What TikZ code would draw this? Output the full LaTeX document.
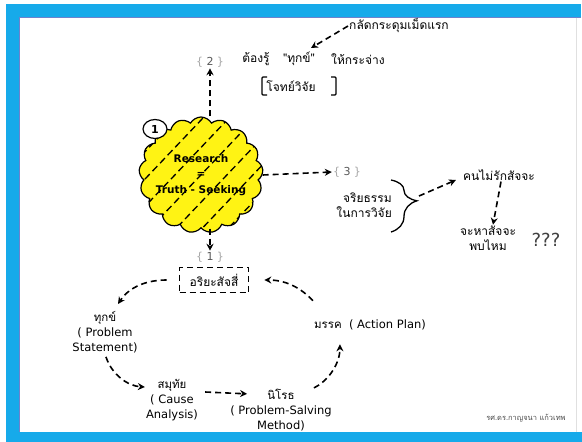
\documentclass[tikz,border=0pt]{standalone}
\usepackage{fontspec}
\setmainfont{DejaVu Sans}
\newfontfamily\thai[Script=Thai]{Loma}
\usetikzlibrary{shapes.symbols,shapes.geometric,decorations.pathreplacing,arrows.meta}
\definecolor{frameblue}{RGB}{22,170,234}
\definecolor{frameedge}{RGB}{110,130,205}
\definecolor{cloudyellow}{RGB}{255,243,20}

\begin{document}
\begin{tikzpicture}[x=1pt,y=-1pt,
  flow/.style={line width=1.6pt, dash pattern=on 6pt off 4pt,
    -{Stealth[length=7pt,width=7pt]}},
  txt/.style={font=\fontsize{11.5}{15}\selectfont, align=center, inner sep=1pt},
  thtxt/.style={font=\fontsize{12}{14.5}\thai, align=center, inner sep=1pt},
  tag/.style={font=\fontsize{11}{13}\selectfont, text=black!65, inner sep=1pt},
  cloudshape/.style={cloud, cloud puffs=17, cloud puff arc=120, cloud ignores aspect,
    minimum width=124pt, minimum height=116pt, draw, line width=1.2pt, fill=cloudyellow,
    path picture={
      \foreach \k in {-8,...,8}
        \draw[line width=1.3pt, dash pattern=on 7pt off 4pt]
          ([xshift=\k*26pt]path picture bounding box.center) ++(-95pt,-100pt) -- ++(190pt,200pt);
    }},
  badge/.style={ellipse, draw, fill=white, line width=1.2pt, minimum width=24pt,
    minimum height=19pt, inner sep=0pt, font=\bfseries\fontsize{11}{13}\selectfont},
  noblebox/.style={draw, line width=1.6pt, dash pattern=on 6pt off 4pt,
    minimum width=69pt, minimum height=25pt, inner sep=0pt},
  bracestyle/.style={line width=1.3pt, decorate,
    decoration={brace, amplitude=26pt, aspect=0.4}},
  bracket/.style={line width=1.2pt, rounded corners=1pt},
]
\useasboundingbox (0,0) rectangle (582,442);
\fill[white] (0,0) rectangle (582,442);

% frame
\fill[frameblue] (6,4) rectangle (581,17);
\fill[frameblue] (6,4) rectangle (19,442);
\fill[frameblue] (6,432) rectangle (582,442);
\draw[frameedge, line width=0.7pt] (19.3,432) -- (19.3,17.3) -- (581,17.3);
\draw[black!12, line width=0.6pt] (576,17.5) -- (576,432);

% research topic at the top
\node[thtxt] (firstbtn) at (399,26) {กลัดกระดุมเม็ดแรก};
\node[tag] (tag2) at (210,62) {\textcolor{black!35}{\{} 2 \textcolor{black!35}{\}}};
\node[thtxt] (know) at (256,59) {ต้องรู้};
\node[thtxt] (dukkha) at (299,59) {"ทุกข์"};
\node[thtxt] (clarify) at (358,59) {ให้กระจ่าง};
\node[thtxt] (problem) at (291,86) {โจทย์วิจัย};
\draw[bracket] (267,77) -- (262,77) -- (262,95) -- (267,95);
\draw[bracket] (331,77) -- (336,77) -- (336,95) -- (331,95);

% central cloud
\node[cloudshape] (cloud) at (201,175) {};
\node[font=\bfseries\fontsize{10.5}{15.5}\selectfont, align=center] (cloudtext) at (201,175)
  {Research\\=\\Truth - Seeking};
\node[badge] (badge) at (155,129) {1};

% ethics branch
\node[tag] (tag3) at (347,172) {\textcolor{black!35}{\{} 3 \textcolor{black!35}{\}}};
\coordinate (braceTop) at (391,180);
\coordinate (braceBot) at (391,232);
\draw[bracestyle] (braceTop) -- (braceBot);
\coordinate (braceTip) at (419,196);
\node[thtxt, align=right, anchor=east] (ethics) at (393,205) {จริยธรรม\\ในการวิจัย};
\node[thtxt] (norespect) at (499,175) {คนไม่รักสัจจะ};
\node[thtxt] (findtruth) at (488,238) {จะหาสัจจะ\\พบไหม};
\node[font=\fontsize{18}{20}\selectfont, text=black!75] (qmarks) at (546,240) {???};

% four noble truths cycle
\node[tag] (tag1) at (210,257) {\textcolor{black!35}{\{} 1 \textcolor{black!35}{\}}};
\node[noblebox, thtxt] (noble) at (214,280) {อริยะสัจสี่};
\node[txt] (ps) at (105,332) {{\thai ทุกข์}\\( Problem\\Statement)};
\node[txt] (cause) at (172,400) {{\thai สมุทัย}\\( Cause\\Analysis)};
\node[txt] (method) at (281,410) {{\thai นิโรธ}\\( Problem-Salving\\Method)};
\node[txt] (action) at (370,325) {{\thai มรรค}~~( Action Plan)};

\node[font=\fontsize{7.5}{9}\thai, text=black!70] (credit) at (526,418) {รศ.ดร.กาญจนา แก้วเทพ};

% connectors
\draw[flow] (tag2.south |- cloud.north) -- (tag2.south);
\draw[flow] (firstbtn.west) -- ([xshift=12pt,yshift=3pt]dukkha.north);
\draw[flow] (cloud.east) -- (tag3.west);
\draw[flow] (braceTip) -- ([xshift=-6pt,yshift=-5pt]norespect.west);
\draw[flow] ([xshift=2pt]norespect.south) -- ([xshift=5pt]findtruth.north);
\draw[flow] (tag1.north |- cloud.south) -- (tag1.north);
\draw[flow, shorten <=12pt] (noble.west) .. controls (148,280) and (130,286)
  .. ([xshift=13pt,yshift=6pt]ps.north);
\draw[flow, shorten <=3pt] (ps.south) .. controls (112,375) and (128,386)
  .. ([yshift=13pt]cause.west);
\draw[flow] ([xshift=6pt,yshift=8pt]cause.east) -- ([xshift=18pt,yshift=-6pt]method.north west);
\draw[flow] ([xshift=-19pt]method.north east) .. controls (330,380) and (340,362)
  .. ([xshift=27pt,yshift=-13pt]action.south west);
\draw[flow, shorten >=15pt] ([yshift=18pt]action.north west) .. controls (300,287) and (285,280)
  .. (noble.east);
\end{tikzpicture}
\end{document}
